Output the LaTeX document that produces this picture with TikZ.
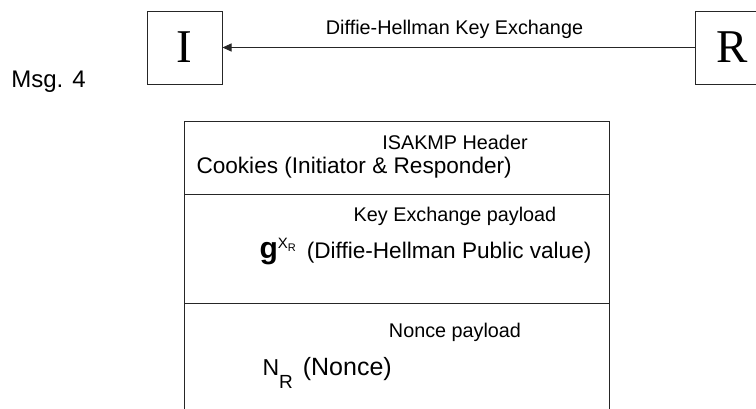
\documentclass[tikz,border=0pt]{standalone}
\usepackage{fontspec}
\setmainfont{Liberation Sans}
\newfontfamily\partyfont{Liberation Serif}
\usetikzlibrary{arrows.meta}
\begin{document}
\begin{tikzpicture}[x=1pt,y=-1pt,line width=1pt,draw=black!85,
  party/.style={draw,minimum width=75pt,minimum height=73pt,inner sep=0pt,font=\partyfont\fontsize{47}{47}\selectfont},
  big/.style={inner sep=0pt,font=\fontsize{22.6}{22.6}\selectfont},
  small/.style={inner sep=0pt,font=\fontsize{19.8}{19.8}\selectfont}]
\useasboundingbox (0,0) rectangle (756,408);
\node[party] (I) at (184.5,47.5) {I};
\node[party] (R) at (732.5,47.5) {R};
\draw[-{Triangle[length=9pt,width=8pt]}] (R) -- (I) node[midway,above=8pt,small,xshift=-4pt] (dh) {Diffie-Hellman Key Exchange};
\node[font=\fontsize{24}{24}\selectfont,inner sep=0pt] (msg) at (48.5,82) {Msg. 4};
% message frame, open at the bottom
\draw (184,415) -- (184,121) -- (609,121) -- (609,415);
\draw (184,194) -- (609,194);
\draw (184,303) -- (609,303);
\node[small] (hdr) at (455,142) {ISAKMP Header};
\node[big,anchor=west] (cookies) at (196,168) {Cookies (Initiator \& Responder)};
\node[small] (kepay) at (455,216) {Key Exchange payload};
\node[anchor=west,inner sep=0pt] (gxr) at (259,252) {{\fontsize{30}{30}\selectfont\bfseries g}\raisebox{10pt}{\fontsize{15}{15}\selectfont X\raisebox{-3pt}{\fontsize{11}{11}\selectfont R}}\hspace{11pt}{\fontsize{22.6}{22.6}\selectfont (Diffie-Hellman Public value)}};
\node[small] (nopay) at (455,332) {Nonce payload};
\node[anchor=west,inner sep=0pt] (nr) at (262,373) {{\fontsize{23}{23}\selectfont N\raisebox{-13pt}{\fontsize{19}{19}\selectfont R}\hspace{10pt}{\fontsize{25}{25}\selectfont (Nonce)}}};
\end{tikzpicture}
\end{document}
